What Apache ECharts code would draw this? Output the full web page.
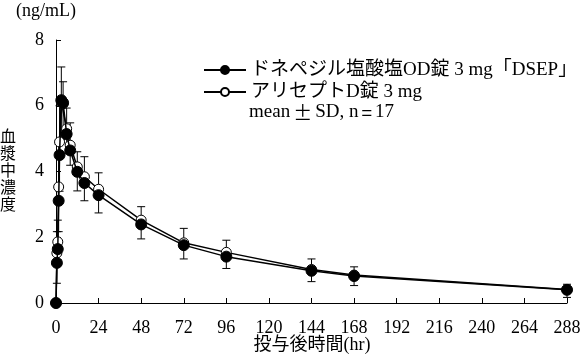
<!DOCTYPE html>
<html><head><meta charset="utf-8">
<script src="https://cdn.jsdelivr.net/npm/echarts@6/dist/echarts.min.js"></script>
<style>html,body{margin:0;padding:0;background:#fff}#c{width:585px;height:355px}</style>
</head><body><div id="c"></div>
<script>
// sampling times (hr)
const times = [0, 0.5, 1, 1.5, 2, 3, 4, 6, 8, 12, 16, 24, 48, 72, 96, 144, 168, 288];
// ドネペジル塩酸塩OD錠 3 mg「DSEP」 mean / SD (ng/mL)
const dsepMean = [0, 1.22, 1.64, 3.11, 4.50, 6.17, 6.09, 5.14, 4.64, 3.99, 3.65, 3.28, 2.39, 1.76, 1.41, 0.98, 0.82, 0.40];
const dsepSD   = [0, 0.62, 0.33, 0.94, 1.10, 1.20, 0.90, 0.60, 0.45, 0.58, 0.54, 0.54, 0.44, 0.42, 0.36, 0.33, 0.29, 0.23];
// アリセプトD錠 3 mg mean / SD (ng/mL)
const ariMean  = [0, 1.52, 1.86, 3.53, 4.90, 6.12, 6.06, 5.30, 4.80, 4.14, 3.84, 3.46, 2.52, 1.83, 1.54, 1.02, 0.85, 0.41];
const ariSD    = [0, 0.65, 0.66, 1.30, 1.10, 1.06, 0.67, 0.63, 0.68, 0.46, 0.61, 0.50, 0.41, 0.44, 0.37, 0.32, 0.25, 0.16];
const seriesNames = ['ドネペジル塩酸塩OD錠 3 mg「DSEP」', 'アリセプトD錠 3 mg'];
const yUnit = '(ng/mL)';
const yName = '血漿中濃度';
const xName = '投与後時間(hr)';

const FONT = '"Liberation Serif", "Noto Sans CJK JP", serif';
const CJK = '"Noto Sans CJK JP", sans-serif';

const chart = echarts.init(document.getElementById('c'));
const pairs = m => times.map((t, i) => [t, m[i]]);
const errData = [];
times.forEach((t, i) => {
  if (ariSD[i] > 0) errData.push([t, ariMean[i], ariMean[i] + ariSD[i]]);
  if (dsepSD[i] > 0) errData.push([t, dsepMean[i], dsepMean[i] - dsepSD[i]]);
});

chart.setOption({
  animation: false,
  grid: { left: 56, right: 18, top: 40, bottom: 52, containLabel: false },
  xAxis: {
    type: 'value', min: 0, max: 288, interval: 24,
    axisLine: { lineStyle: { color: '#000', width: 1 } },
    axisTick: { inside: true, length: 5, lineStyle: { color: '#000' } },
    splitLine: { show: false },
    axisLabel: { color: '#000', fontSize: 18, fontFamily: FONT, margin: 16 }
  },
  yAxis: {
    type: 'value', min: 0, max: 8, interval: 2,
    axisLine: { show: true, lineStyle: { color: '#000', width: 1 } },
    axisTick: { show: true, inside: true, length: 5, lineStyle: { color: '#000' } },
    splitLine: { show: false },
    axisLabel: { color: '#000', fontSize: 18, fontFamily: FONT, margin: 12 }
  },
  legend: {
    orient: 'vertical', left: 198, top: 55, itemGap: 2, padding: 5,
    itemWidth: 42, itemHeight: 10,
    textStyle: { fontSize: 19, fontFamily: FONT, color: '#000', lineHeight: 20 },
    data: seriesNames
  },
  graphic: [
    { type: 'text', x: 16, y: 2, style: { text: yUnit, font: '18px ' + FONT, fill: '#000' } },
    { type: 'text', x: 0, y: 127, style: { text: yName.split('').join('\n'), font: '16px ' + CJK, lineHeight: 17, fill: '#000' } },
    { type: 'text', x: 312, y: 336, style: { text: xName, font: '18px ' + FONT, fill: '#000', align: 'center' } },
    { type: 'text', x: 249, y: 103, style: {
        text: '{a|mean}{b|±}{a|SD, n}{b|=}{a|17}',
        rich: {
          a: { fontSize: 19, fontFamily: FONT, fill: '#000' },
          b: { fontSize: 19, fontFamily: CJK, fill: '#000', padding: [0, 3] }
        }
    } }
  ],
  series: [
    {
      type: 'custom', name: 'SD', z: 1, clip: false,
      encode: { x: 0, y: [1, 2] },
      data: errData,
      renderItem(params, api) {
        const x = api.value(0), a = api.value(1), b = api.value(2);
        const p1 = api.coord([x, a]), p2 = api.coord([x, b]);
        return { type: 'group', children: [
          { type: 'line', shape: { x1: p1[0], y1: p1[1], x2: p2[0], y2: p2[1] }, style: { stroke: '#000', lineWidth: 1 } },
          { type: 'line', shape: { x1: p2[0] - 4, y1: p2[1], x2: p2[0] + 4, y2: p2[1] }, style: { stroke: '#000', lineWidth: 1 } }
        ] };
      }
    },
    {
      type: 'line', name: seriesNames[1], z: 2, data: pairs(ariMean),
      symbol: 'circle', symbolSize: 10, showAllSymbol: true, clip: false,
      lineStyle: { color: '#000', width: 1.5 },
      itemStyle: { color: '#fff', borderColor: '#000', borderWidth: 1 }
    },
    {
      type: 'line', name: seriesNames[0], z: 3, data: pairs(dsepMean),
      symbol: 'circle', symbolSize: 11, showAllSymbol: true, clip: false,
      lineStyle: { color: '#000', width: 1.5 },
      itemStyle: { color: '#000', borderColor: '#000', borderWidth: 1 }
    }
  ]
});
</script>
</body></html>
